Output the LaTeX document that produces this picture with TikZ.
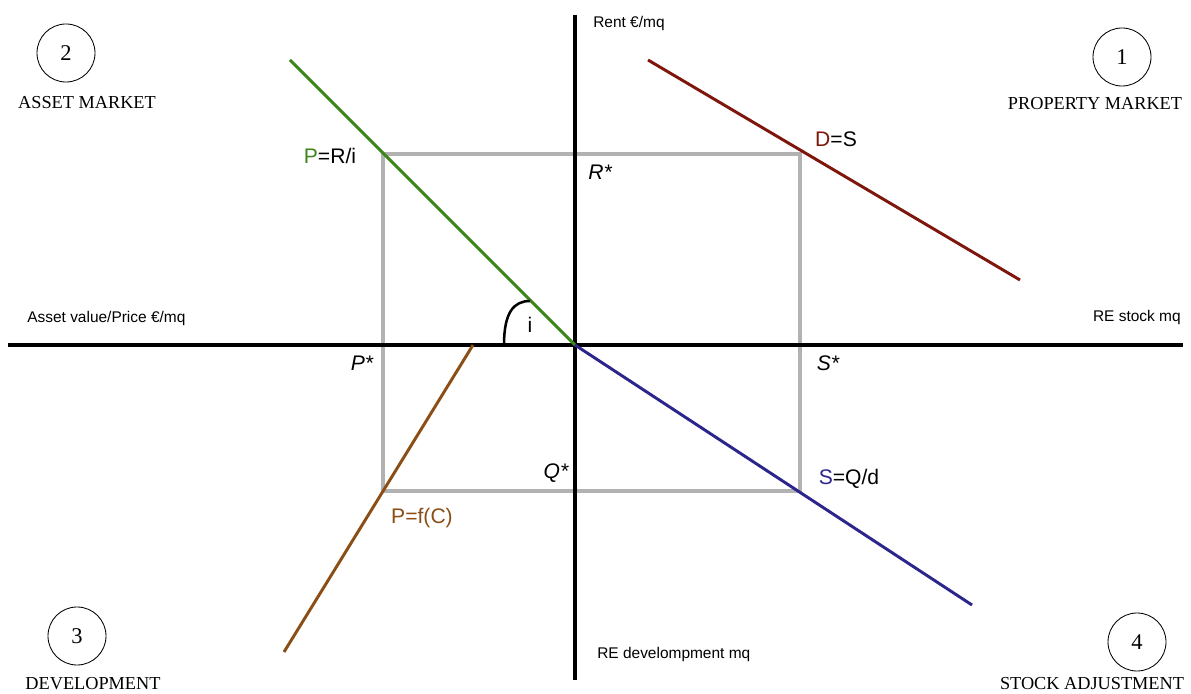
\documentclass[tikz,border=0pt]{standalone}
\usepackage{fontspec}
\setmainfont{Liberation Serif}
\setsansfont{Liberation Sans}
\usepackage{tikz}
\usetikzlibrary{positioning}
\usepackage{xcolor}
\definecolor{assetGreen}{RGB}{62,134,28}
\definecolor{demandRed}{RGB}{126,22,12}
\definecolor{stockBlue}{RGB}{44,38,140}
\definecolor{devBrown}{RGB}{138,78,22}
\definecolor{frameGray}{RGB}{178,178,178}

\begin{document}
\begin{tikzpicture}[
    x=0.025cm, y=-0.025cm,
    axis/.style={line width=2.6pt, black},
    curve/.style={line width=2.1pt},
    frame/.style={line width=2.4pt, frameGray},
    quad/.style={circle, draw, line width=0.6pt, minimum size=1.45cm, inner sep=0pt, font=\fontsize{16}{18}\selectfont},
    quadname/.style={font=\fontsize{13}{15}\selectfont},
    axlbl/.style={font=\sffamily\fontsize{11}{13}\selectfont, inner sep=0pt},
    eqlbl/.style={font=\sffamily\fontsize{15}{18}\selectfont, inner sep=0pt},
    starlbl/.style={font=\sffamily\itshape\fontsize{15}{18}\selectfont, inner sep=0pt}
]
\useasboundingbox (0,0) rectangle (1191,694);

% points
\coordinate (O) at (575,345);
\coordinate (axW) at (8,345);
\coordinate (axE) at (1183,345);
\coordinate (axN) at (575,15);
\coordinate (axS) at (575,680);
\coordinate (gTop) at (290,60);
\coordinate (dTop) at (648,60);
\coordinate (dEnd) at (1020,280);
\coordinate (sEnd) at (972,605);
\coordinate (cTop) at (473,345);
\coordinate (cEnd) at (284,652);
\coordinate (fNW) at (383,154);
\coordinate (fSE) at (800,491);
\coordinate (iA) at (504,345);
\coordinate (iB) at (530,301);

% equilibrium frame
\draw[frame] (fNW) rectangle (fSE);

% axes
\draw[axis] (axW) -- (axE);
\draw[axis] (axN) -- (axS);

% schedules
\draw[curve, assetGreen] (gTop) -- (O);
\draw[curve, demandRed] (dTop) -- (dEnd);
\draw[curve, stockBlue] (O) -- (sEnd);
\draw[curve, devBrown] (cTop) -- (cEnd);

% angle i
\draw[line width=1.8pt] (iA) .. controls (504,312) and (514,301) .. (iB);
\node[eqlbl] (ilbl) at (530,325) {i};

% axis labels
\node[axlbl, anchor=west] (rent) at (593,24) {Rent €/mq};
\node[axlbl, anchor=west] (devmq) at (597,654) {RE develompment mq};
\node[axlbl, anchor=west] (price) at (27,319) {Asset value/Price €/mq};
\node[axlbl, anchor=east] (stock) at (1181,318) {RE stock mq};

% schedule labels
\node[eqlbl] (pri) at (330,156) {\textcolor{assetGreen}{P}=R/i};
\node[eqlbl] (ds) at (836,139) {\textcolor{demandRed}{D}=S};
\node[eqlbl] (sqd) at (849,479) {\textcolor{stockBlue}{S}=Q/d};
\node[eqlbl, devBrown] (pfc) at (422,518) {P=f(C)};

% equilibrium values
\node[starlbl] (rstar) at (600,172) {R*};
\node[starlbl] (pstar) at (362,363) {P*};
\node[starlbl] (sstar) at (828,363) {S*};
\node[starlbl] (qstar) at (556,473) {Q*};

% quadrants
\node[quad] (q2) at (66,53) {2};
\node[quadname] (q2name) at (87,103) {ASSET MARKET};
\node[quad] (q1) at (1122,57) {1};
\node[quadname] (q1name) at (1095,104) {PROPERTY MARKET};
\node[quad] (q3) at (77,636) {3};
\node[quadname] (q3name) at (93,684) {DEVELOPMENT};
\node[quad] (q4) at (1137,642) {4};
\node[quadname] (q4name) at (1092,684) {STOCK ADJUSTMENT};
\end{tikzpicture}
\end{document}
